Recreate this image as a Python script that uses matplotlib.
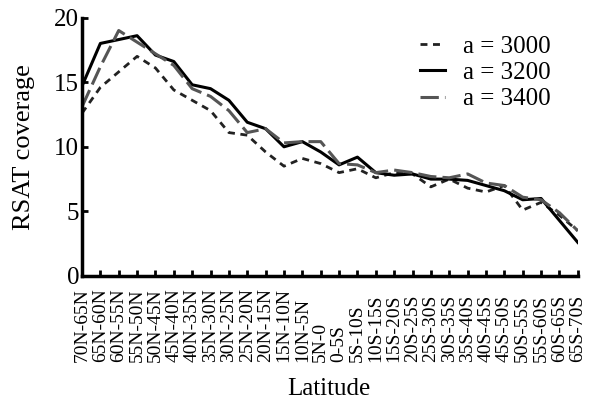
import matplotlib.pyplot as plt

# Dados
latitudes = ['70N-65N', '65N-60N', '60N-55N', '55N-50N', '50N-45N', '45N-40N',
             '40N-35N', '35N-30N', '30N-25N', '25N-20N', '20N-15N', '15N-10N',
             '10N-5N', '5N-0', '0-5S', '5S-10S', '10S-15S', '15S-20S',
             '20S-25S', '25S-30S', '30S-35S', '35S-40S', '40S-45S', '45S-50S',
             '50S-55S', '55S-60S', '60S-65S', '65S-70S']

a3000 = [12.6, 14.6, 15.8, 17.0, 16.1, 14.4, 13.6, 12.8, 11.1, 10.9, 9.6, 8.5,
         9.1, 8.7, 8.0, 8.3, 7.6, 8.0, 7.9, 6.9, 7.5, 6.8, 6.5, 7.0,
         5.1, 5.7, 4.7, 3.5]
a3200 = [14.7, 18.0, 18.3, 18.6, 17.1, 16.6, 14.8, 14.5, 13.6, 11.9, 11.4, 10.0,
         10.4, 9.6, 8.6, 9.2, 8.0, 7.8, 7.9, 7.5, 7.5, 7.4, 7.0, 6.6,
         5.9, 6.0, 4.3, 2.6]
a3400 = [13.1, 16.2, 19.0, 18.1, 17.2, 16.3, 14.5, 13.9, 12.8, 11.1, 11.4, 10.3,
         10.4, 10.4, 8.7, 8.6, 8.0, 8.2, 8.0, 7.7, 7.6, 7.9, 7.2, 7.0,
         6.1, 5.9, 4.9, 3.5]

plt.rcParams['font.family'] = ['Liberation Serif', 'DejaVu Serif']

fig = plt.figure(figsize=(5.92, 4.0), dpi=100)
ax = fig.add_axes([0.1385, 0.31, 0.8375, 0.646])

x = list(range(len(latitudes)))
ax.plot(x, a3000, color='#222222', lw=2.0, linestyle=(0, (2.5, 2)), label='a = 3000')
ax.plot(x, a3200, color='black', lw=2.2, linestyle='-', label='a = 3200')
ax.plot(x, a3400, color='#555555', lw=2.2, linestyle=(0, (6, 2)), label='a = 3400')

ax.set_xlim(0, len(latitudes) - 1)
ax.set_ylim(0, 20)
ax.set_yticks([0, 5, 10, 15, 20])
ax.set_xticks(x)
ax.set_xticklabels(latitudes, rotation=90, rotation_mode='anchor',
                   ha='left', va='center', fontsize=14)
ax.tick_params(axis='x', direction='in', length=4, width=2, pad=62)
ax.tick_params(axis='y', direction='in', length=4, width=2, pad=2, labelsize=18)

for s in ['top', 'right']:
    ax.spines[s].set_visible(False)
for s in ['left', 'bottom']:
    ax.spines[s].set_linewidth(2.5)

ax.set_ylabel('RSAT coverage', fontsize=19, labelpad=14)
fig.text(0.555, 0.028, 'Latitude', fontsize=18, ha='center', va='center')

ax.legend(loc='upper right', bbox_to_anchor=(0.965, 0.97), frameon=False,
          fontsize=18, handlelength=1.0, handletextpad=0.7,
          labelspacing=0.15, borderaxespad=0)

fig.savefig('out.png', dpi=100)
